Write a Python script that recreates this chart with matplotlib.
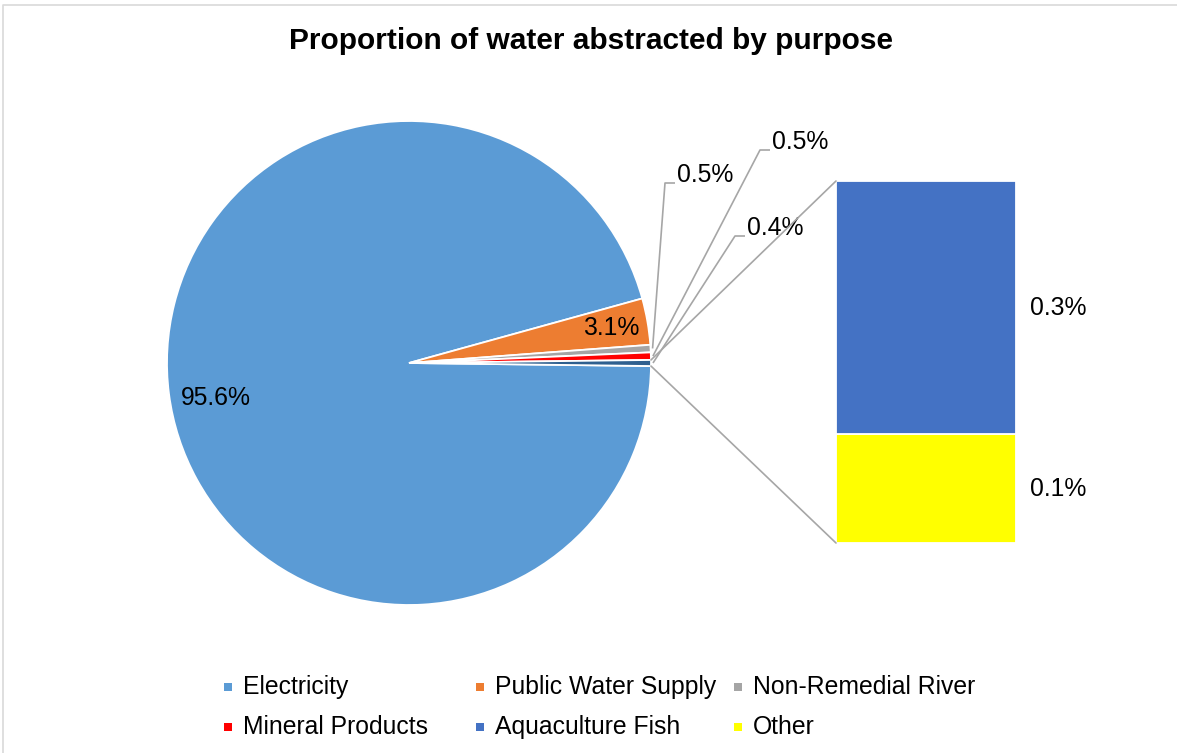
import matplotlib
matplotlib.use("Agg")
import matplotlib.pyplot as plt
import numpy as np
from matplotlib.patches import ConnectionPatch

plt.rcParams['font.family'] = ['Liberation Sans', 'DejaVu Sans']

# ---------------- data ----------------
title = "Proportion of water abstracted by purpose"
categories = ["Electricity", "Public Water Supply", "Non-Remedial River",
              "Mineral Products", "Aquaculture Fish", "Other"]
values = [95.6, 3.1, 0.5, 0.5, 0.28, 0.12]
value_labels = ["95.6%", "3.1%", "0.5%", "0.5%", "0.3%", "0.1%"]
combined_label = "0.4%"
colors = ["#5B9BD5", "#ED7D31", "#A5A5A5", "#FF0000", "#4472C4", "#FFFF00"]
combined_color = "#2E5F8F"
n_pie = 4  # first four categories in the pie, the rest go to the bar

# ---------------- layout ----------------
W, H = 1177, 753
def py(y):
    return H - y

fig = plt.figure(figsize=(W / 100, H / 100), dpi=100)
ax = fig.add_axes([0, 0, 1, 1])

pie_vals = values[:n_pie] + [sum(values[n_pie:])]
pie_cols = colors[:n_pie] + [combined_color]
total = sum(pie_vals)
start = -pie_vals[-1] / total * 360 / 2
R = 242
C = (409, py(363))
wedges, _ = ax.pie(pie_vals, colors=pie_cols, startangle=start, counterclock=False,
                   radius=R, center=C, frame=True,
                   wedgeprops=dict(edgecolor="white", linewidth=1.3))
ax.set_xlim(0, W)
ax.set_ylim(0, H)
ax.set_aspect("equal")
ax.axis("off")

def pt(theta, r):
    t = np.deg2rad(theta)
    return C[0] + r * np.cos(t), C[1] + r * np.sin(t)

def mid(w):
    return (w.theta1 + w.theta2) / 2

fs = 17.8
# inside labels
for i, rf in [(0, 0.81), (1, 0.85)]:
    w = wedges[i]
    th = mid(w) if i == 1 else mid(w) + 3
    x, y = pt(th, R * rf)
    ax.text(x, y, value_labels[i], ha="center", va="center", fontsize=fs, color="#000000")

# outside labels with leader lines
lead_col = "#A6A6A6"
outside = [(2, value_labels[2], (665, 183)),
           (3, value_labels[3], (760, 150)),
           (4, combined_label, (735, 236))]
for idx, txt, (ex, ey) in outside:
    w = wedges[idx]
    sx, sy = pt(mid(w), R + 2)
    ax.plot([sx, ex, ex + 10], [sy, py(ey), py(ey)], color=lead_col, lw=1.2,
            solid_capstyle="butt")
    ax.text(ex + 12, py(ey) + 8, txt, ha="left", va="center", fontsize=fs, color="#000000")

# ---------------- bar of remaining categories ----------------
bax = fig.add_axes([836 / W, py(543) / H, 180 / W, 362 / H])
bar_vals = values[n_pie:]
bar_cols = colors[n_pie:]
bar_labels = value_labels[n_pie:]
bottom = 0
for v, c, lab in list(zip(bar_vals, bar_cols, bar_labels))[::-1]:
    bax.bar(0, v, bottom=bottom, width=1, color=c, edgecolor="white", linewidth=1.3)
    bax.text(1.078, bottom + v / 2, lab, transform=bax.get_yaxis_transform(),
             ha="left", va="center", fontsize=fs, color="#000000")
    bottom += v
bax.set_xlim(-0.5, 0.5)
bax.set_ylim(0, bottom)
bax.axis("off")

# connectors pie -> bar
cw = wedges[-1]
for th, yb in [(cw.theta2, bottom), (cw.theta1, 0)]:
    con = ConnectionPatch(xyA=pt(th, R), coordsA=ax.transData,
                          xyB=(-0.5, yb), coordsB=bax.transData,
                          color=lead_col, lw=1.2)
    fig.add_artist(con)

# ---------------- title ----------------
ax.text(591, py(41), title, ha="center", va="center", fontsize=21.5,
        fontweight="bold", color="#000000")

# ---------------- legend (manual, Excel-like equal columns) ----------------
col_x = [228, 480, 738]
row_y = [687, 727]
for k, (cat, c) in enumerate(zip(categories, colors)):
    r, cidx = divmod(k, 3)
    mx, my = col_x[cidx], py(row_y[r])
    ax.plot([mx], [my], marker="s", markersize=6, color=c, markeredgewidth=0)
    ax.text(mx + 15, my, cat, ha="left", va="center", fontsize=fs, color="#000000")

# chart border
ax.plot([3, 3, W], [0, py(4.5), py(4.5)], color="#D9D9D9", lw=1.2)

fig.savefig("out.png", dpi=100)
